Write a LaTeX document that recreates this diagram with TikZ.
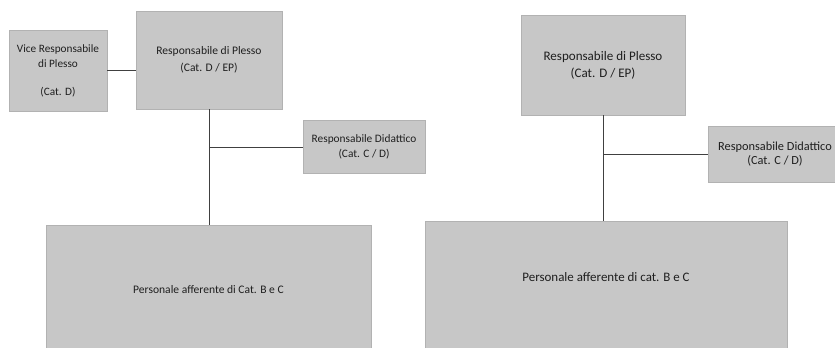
\documentclass[tikz,border=0pt]{standalone}
\usepackage{fontspec}
\setmainfont{Carlito}
\begin{document}
\begin{tikzpicture}[x=1bp,y=-1bp,
  box/.style={draw=black!30, line width=0.4bp, fill=black!22, inner sep=0pt, align=center, text=black!88},
  conn/.style={draw=black!75, line width=0.7bp}]
\useasboundingbox (0,0) rectangle (835,347);
\clip (0,0) rectangle (835,347);
% ---------- left diagram ----------
\node[box, minimum width=98bp, minimum height=81bp, font=\fontsize{11.3}{15}\selectfont] (vice) at (58,70.5)
  {Vice Responsabile\\di Plesso\\[13bp](Cat. D)};
\node[box, minimum width=146bp, minimum height=98bp, font=\fontsize{11.6}{17}\selectfont] (respL) at (209,60)
  {Responsabile di Plesso\\(Cat. D / EP)};
\node[box, minimum width=122bp, minimum height=53bp, font=\fontsize{11.4}{15}\selectfont] (didL) at (364,146.5)
  {Responsabile Didattico\\(Cat. C / D)};
\node[box, minimum width=325bp, minimum height=124bp, font=\fontsize{11.6}{12}\selectfont] (persL) at (208.5,287)
  {\raisebox{-6.5bp}[0pt][0pt]{Personale afferente di Cat. B e C}};
\coordinate (jL) at (209,147);
\draw[conn] (vice.east) -- (vice.east -| respL.west);
\draw[conn] (respL.south) -- (respL.south |- persL.north);
\draw[conn] (jL) -- (jL -| didL.west);
% ---------- right diagram ----------
\node[box, minimum width=164bp, minimum height=100bp, font=\fontsize{13.1}{17}\selectfont] (respR) at (603,65)
  {Responsabile di Plesso\\(Cat. D / EP)};
\node[box, minimum width=134bp, minimum height=56bp, font=\fontsize{12.4}{14}\selectfont] (didR) at (775,154)
  {Responsabile Didattico\\(Cat. C / D)};
\node[box, minimum width=362bp, minimum height=128bp, font=\fontsize{13}{12}\selectfont] (persR) at (606,285)
  {\raisebox{4bp}[0pt][0pt]{Personale afferente di cat. B e C}};
\coordinate (jR) at (603,154);
\draw[conn] (respR.south) -- (respR.south |- persR.north);
\draw[conn] (jR) -- (jR -| didR.west);
\end{tikzpicture}
\end{document}
